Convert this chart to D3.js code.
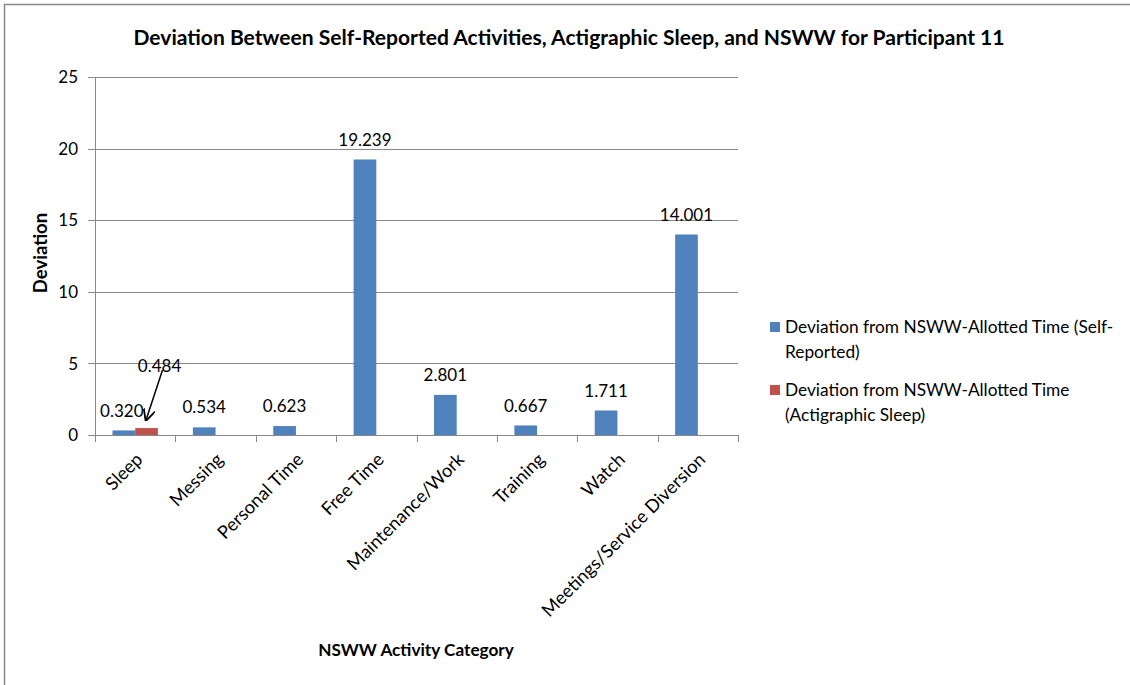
<!DOCTYPE html>
<html><head><meta charset="utf-8">
<script src="https://cdn.jsdelivr.net/npm/d3@7"></script>
<style>body{margin:0;background:#fff}svg{display:block}text{font-family:Lato,"Open Sans",sans-serif;fill:#000}</style>
</head><body>
<script>
const categories = ["Sleep","Messing","Personal Time","Free Time","Maintenance/Work","Training","Watch","Meetings/Service Diversion"];
const selfReported = [0.320,0.534,0.623,19.239,2.801,0.667,1.711,14.001];
const actigraphic = [0.484,null,null,null,null,null,null,null];
const seriesNames = ["Deviation from NSWW-Allotted Time (Self-Reported)","Deviation from NSWW-Allotted Time (Actigraphic Sleep)"];
const legendLines = [["Deviation from NSWW-Allotted Time (Self-","Reported)"],["Deviation from NSWW-Allotted Time","(Actigraphic Sleep)"]];
const yTicks = [0,5,10,15,20,25];
const colors = ["#4F81BD","#C0504D"];
const titleText = "Deviation Between Self-Reported Activities, Actigraphic Sleep, and NSWW for Participant 11";

const W=1130,H=685;
const svg=d3.select("body").append("svg").attr("width",W).attr("height",H);
svg.append("rect").attr("x",4.5).attr("y",4.5).attr("width",1140).attr("height",700).attr("fill","#fff").attr("stroke","#878787").attr("stroke-width",1.5);

const L=95,R=738,T=77,B=435;
const x=d3.scaleBand().domain(categories).range([L,R]).paddingInner(0).paddingOuter(0);
const x1=d3.scaleBand().domain([0,1]).range([0,x.bandwidth()]).paddingInner(0).paddingOuter(0.77);
const y=d3.scaleLinear().domain([0,25]).range([B,T]);
const grid="#888";

// gridlines
svg.append("g").selectAll("line").data(yTicks).join("line")
 .attr("x1",L-7).attr("x2",R).attr("y1",d=>Math.round(y(d))+0.5).attr("y2",d=>Math.round(y(d))+0.5)
 .attr("stroke",grid).attr("stroke-width",1);
svg.append("line").attr("x1",L+0.5).attr("x2",L+0.5).attr("y1",T).attr("y2",B).attr("stroke",grid);
// y tick labels
svg.append("g").selectAll("text").data(yTicks).join("text")
 .attr("x",L-17).attr("y",d=>y(d)).attr("dy","0.36em").attr("text-anchor","end").attr("font-size",17).text(d=>d);
// x ticks
const xt=categories.map(c=>x(c)).concat([R]);
svg.append("g").selectAll("line").data(xt).join("line")
 .attr("x1",d=>Math.round(d)+0.5).attr("x2",d=>Math.round(d)+0.5).attr("y1",B).attr("y2",B+7).attr("stroke",grid);

// bars
const series=[selfReported,actigraphic];
series.forEach((vals,si)=>{
  const data=categories.map((c,i)=>({c,v:vals[i]})).filter(d=>d.v!=null);
  svg.append("g").selectAll("rect").data(data).join("rect")
   .attr("x",d=>x(d.c)+x1(si)).attr("width",x1.bandwidth())
   .attr("y",d=>y(d.v)).attr("height",d=>B-y(d.v)).attr("fill",colors[si]);
});
const fmt=d3.format(".3f");
// labels self-reported
svg.append("g").selectAll("text").data(categories.map((c,i)=>({c,v:selfReported[i]}))).join("text")
 .attr("x",d=>x(d.c)+x1(0)+x1.bandwidth()/2 - (d.c==="Sleep"?2:0)).attr("y",d=>y(d.v)-20).attr("dy","0.36em")
 .attr("text-anchor","middle").attr("font-size",17).text(d=>fmt(d.v));
// moved label for actigraphic with leader arrow
svg.append("defs").append("marker").attr("id","ah").attr("viewBox","0 0 10 10").attr("refX",9).attr("refY",5)
 .attr("markerWidth",8).attr("markerHeight",8).attr("orient","auto-start-reverse")
 .append("path").attr("d","M0,0 L10,5 L0,10").attr("fill","none").attr("stroke","#000").attr("stroke-width",1.5);
const ac=categories[0], av=actigraphic[0];
const bx=x(ac)+x1(1)+x1.bandwidth()/2;
svg.append("text").attr("x",bx+13).attr("y",y(av)-62).attr("dy","0.36em").attr("text-anchor","middle").attr("font-size",17).text(fmt(av));
svg.append("line").attr("x1",bx+16).attr("y1",y(av)-58).attr("x2",bx-0.5).attr("y2",y(av)-8)
 .attr("stroke","#000").attr("stroke-width",1.5).attr("marker-end","url(#ah)");

// category labels
svg.append("g").selectAll("text").data(categories).join("text")
 .attr("transform",c=>`translate(${x(c)+x.bandwidth()/2+4},${B+21}) rotate(-45)`)
 .attr("text-anchor","end").attr("dy","0.36em").attr("font-size",18.3).text(c=>c);

// title
const t=svg.append("text").attr("x",569).attr("y",45).attr("text-anchor","middle").attr("font-weight","bold").attr("font-size",20).text(titleText);
const tw=t.node().getComputedTextLength(); t.attr("font-size",20*872/tw);
// axis titles
svg.append("text").attr("transform","translate(47,253) rotate(-90)").attr("text-anchor","middle").attr("font-weight","bold").attr("font-size",18.5).text("Deviation");
svg.append("text").attr("x",416).attr("y",656).attr("text-anchor","middle").attr("font-weight","bold").attr("font-size",17.2).text("NSWW Activity Category");

// legend
const lg=svg.append("g");
const ly=[322,385];
legendLines.forEach((lines,i)=>{
  lg.append("rect").attr("x",770).attr("y",ly[i]).attr("width",10).attr("height",10).attr("fill",colors[i]);
  lines.forEach((ln,j)=>lg.append("text").attr("x",785).attr("y",ly[i]+11+j*25).attr("font-size",17.3).text(ln));
});
</script>
</body></html>
